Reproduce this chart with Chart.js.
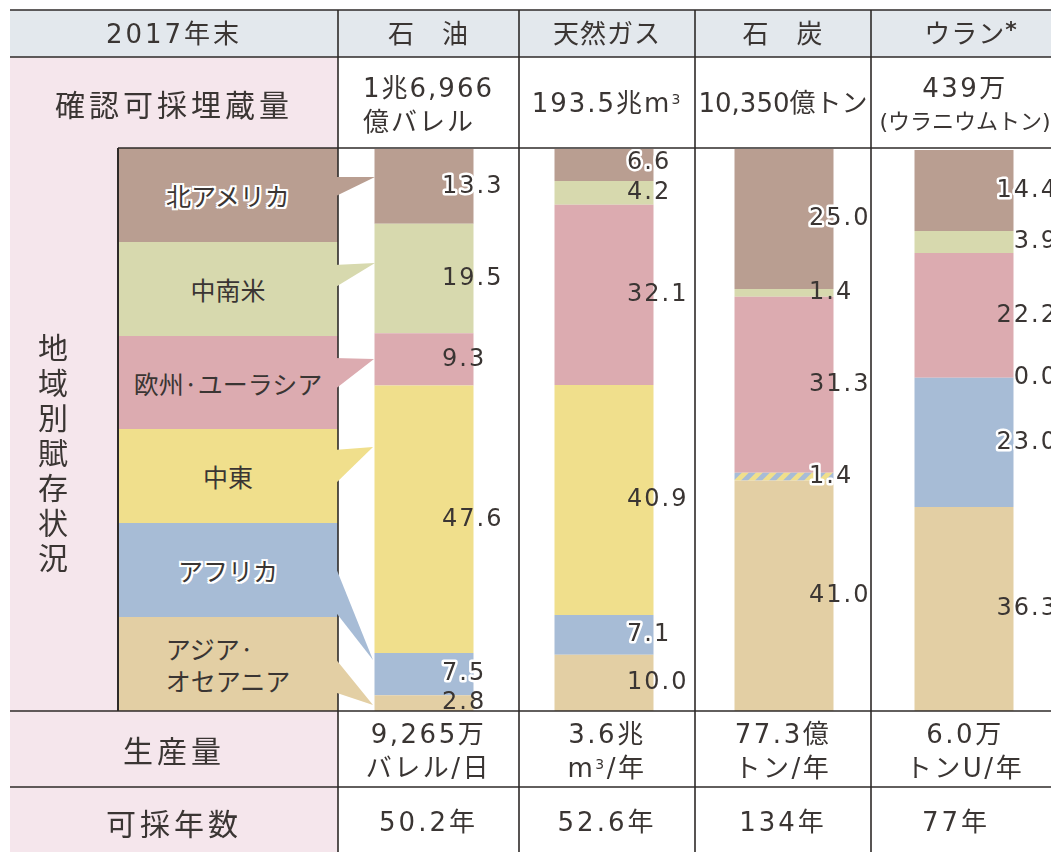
<!DOCTYPE html>
<html lang="ja">
<head>
<meta charset="utf-8">
<script src="https://cdn.jsdelivr.net/npm/chart.js@4.4.1/dist/chart.umd.min.js"></script>
<style>
  html, body { margin:0; padding:0; background:#fff; overflow:hidden; }
  body { width:1051px; height:852px; position:relative; color:#3a3533;
         font-family:"DejaVu Sans","Noto Sans CJK JP",sans-serif; font-weight:400; }
  .bg { position:absolute; }
  .cell { position:absolute; display:flex; flex-direction:column; align-items:center; justify-content:center;
          text-align:center; font-size:26px; line-height:34px; letter-spacing:2.5px; white-space:nowrap; }
  .hd { font-size:26px; letter-spacing:1px; }
  .big { font-size:30px; letter-spacing:4px; font-family:"Noto Sans CJK JP",sans-serif; }
  .legend { position:absolute; left:118px; width:220px; display:flex; flex-direction:column; align-items:center;
            justify-content:center; font-family:"Noto Sans CJK JP",sans-serif; font-size:25px; line-height:32px; }
  .halo { text-shadow: 2px 0 #fff, -2px 0 #fff, 0 2px #fff, 0 -2px #fff, 2px 2px #fff, -2px -2px #fff, 2px -2px #fff, -2px 2px #fff; }
  sup { font-size:14px; line-height:0; vertical-align:8px; }
  sup.ast { font-size:22px; font-weight:700; vertical-align:6px; }
  #chartBox { position:absolute; left:334px; top:149px; }
  svg { position:absolute; left:0; top:0; }
</style>
</head>
<body>
<!-- backgrounds -->
<div class="bg" style="left:10px;top:10px;width:1041px;height:47px;background:#e3e8ed"></div>
<div class="bg" style="left:10px;top:57px;width:328px;height:795px;background:#f5e6ec"></div>

<!-- legend bands -->
<div class="legend halo" style="top:148px;height:94px;background:#b99e91">北アメリカ</div>
<div class="legend" style="top:242px;height:94px;background:#d7d9ae">中南米</div>
<div class="legend" style="top:336px;height:93px;background:#dcabb0">欧州·ユーラシア</div>
<div class="legend" style="top:429px;height:94px;background:#f0df8c">中東</div>
<div class="legend halo" style="top:523px;height:94px;background:#a7bcd6">アフリカ</div>
<div class="legend" style="top:617px;height:94px;background:#e3cfa4">アジア·<br>オセアニア</div>

<div id="chartBox"><canvas id="chart" width="720" height="562"></canvas></div>

<svg width="1051" height="852">
  <g stroke="#2e2a28" stroke-width="1.6" fill="none">
    <line x1="10" y1="10" x2="1051" y2="10"/>
    <line x1="10" y1="57" x2="1051" y2="57"/>
    <line x1="118" y1="148" x2="1051" y2="148"/>
    <line x1="10" y1="711" x2="1051" y2="711"/>
    <line x1="10" y1="787" x2="1051" y2="787"/>
    <line x1="338" y1="10" x2="338" y2="852"/>
    <line x1="519" y1="10" x2="519" y2="852"/>
    <line x1="695" y1="10" x2="695" y2="852"/>
    <line x1="871" y1="10" x2="871" y2="852"/>
    <line x1="118" y1="148" x2="118" y2="711" stroke-width="2"/>
  </g>
  <g stroke="none">
    <polygon points="334,177 375,177 334,197" fill="#b99e91"/>
    <polygon points="334,265 375,263 334,288" fill="#d7d9ae"/>
    <polygon points="334,358 374,359 334,390" fill="#dcabb0"/>
    <polygon points="334,450 373,447 334,485" fill="#f0df8c"/>
    <polygon points="334,563 373,660 334,610" fill="#a7bcd6"/>
    <polygon points="334,657 373,705 334,692" fill="#e3cfa4"/>
  </g>
</svg>

<!-- header row -->
<div class="cell hd" style="left:10px;top:10px;width:328px;height:47px;letter-spacing:3px">2017年末</div>
<div class="cell hd" style="left:338px;top:10px;width:181px;height:47px">石　油</div>
<div class="cell hd" style="left:519px;top:10px;width:176px;height:47px">天然ガス</div>
<div class="cell hd" style="left:695px;top:10px;width:176px;height:47px">石　炭</div>
<div class="cell hd" style="left:871px;top:10px;width:200px;height:47px"><span>ウラン<sup class="ast">*</sup></span></div>

<!-- reserves row -->
<div class="cell big" style="left:10px;top:57px;width:328px;height:91px">確認可採埋蔵量</div>
<div class="cell" style="left:338px;top:59px;width:181px;height:91px;letter-spacing:2px"><div style="text-align:left">1兆6,966<br>億バレル</div></div>
<div class="cell" style="left:519px;top:57px;width:176px;height:91px;letter-spacing:2px"><span>193.5兆m<sup>3</sup></span></div>
<div class="cell" style="left:695px;top:57px;width:176px;height:91px;letter-spacing:0">10,350億トン</div>
<div class="cell" style="left:871px;top:59px;width:188px;height:91px"><div>439万</div><div style="font-size:22px;letter-spacing:0">(ウラニウムトン)</div></div>

<div class="bg" style="left:45px;top:333px;width:30px;font-family:'Noto Sans CJK JP',sans-serif;font-size:30px;letter-spacing:5px;writing-mode:vertical-rl">地域別賦存状況</div>

<!-- production row -->
<div class="cell big" style="left:10px;top:711px;width:328px;height:76px">生産量</div>
<div class="cell" style="left:338px;top:713px;width:181px;height:76px">9,265万<br>バレル/日</div>
<div class="cell" style="left:519px;top:713px;width:176px;height:76px"><div>3.6兆</div><div>m<sup>3</sup>/年</div></div>
<div class="cell" style="left:695px;top:713px;width:176px;height:76px">77.3億<br>トン/年</div>
<div class="cell" style="left:871px;top:713px;width:188px;height:76px">6.0万<br>トンU/年</div>

<!-- years row -->
<div class="cell" style="left:10px;top:787px;width:328px;height:70px"><span class="big">可採年数</span></div>
<div class="cell" style="left:338px;top:787px;width:181px;height:70px;letter-spacing:3px">50.2年</div>
<div class="cell" style="left:519px;top:787px;width:176px;height:70px;letter-spacing:3px">52.6年</div>
<div class="cell" style="left:695px;top:787px;width:176px;height:70px;letter-spacing:3px">134年</div>
<div class="cell" style="left:871px;top:787px;width:170px;height:70px;letter-spacing:3px">77年</div>

<script>
// 地域別賦存状況 (%) : 石油, 天然ガス, 石炭, ウラン
const categories = ['石油', '天然ガス', '石炭', 'ウラン'];
const asiaOceania = [2.8, 10.0, 41.0, 36.3];
const africa = [7.5, 7.1, null, 23.0];
const middleEastAfrica = [null, null, 1.4, null]; // 石炭は中東・アフリカ合計
const middleEast = [47.6, 40.9, null, 0.0];
const europeEurasia = [9.3, 32.1, 31.3, 22.2];
const southAmerica = [19.5, 4.2, 1.4, 3.9];
const northAmerica = [13.3, 6.6, 25.0, 14.4];

// stripes for the combined Middle East + Africa band
function stripes() {
    const c = document.createElement('canvas');
    c.width = 14; c.height = 14;
    const g = c.getContext('2d');
    g.fillStyle = '#f0df8c';
    g.fillRect(0, 0, 14, 14);
    g.strokeStyle = '#a7bcd6';
    g.lineWidth = 5;
    g.beginPath();
    g.moveTo(-2, 16); g.lineTo(16, -2);
    g.moveTo(-9, 9); g.lineTo(9, -9);
    g.moveTo(5, 23); g.lineTo(23, 5);
    g.stroke();
    return g.createPattern(c, 'repeat');
}

const labelAlign = ['left', 'left', 'left', 'right'];
const labelDx = [18, 23, 25, 94];

const valueLabels = {
    id: 'valueLabels',
    afterDatasetsDraw(chart) {
        const ctx = chart.ctx;
        ctx.save();
        ctx.font = '24px "DejaVu Sans", sans-serif';
        ctx.letterSpacing = '2px';
        ctx.textBaseline = 'middle';
        ctx.lineJoin = 'round';
        chart.data.datasets.forEach((ds, di) => {
            chart.getDatasetMeta(di).data.forEach((bar, i) => {
                const v = ds.data[i];
                if (v === null || v === undefined) return;
                const y = (bar.y + bar.base) / 2;
                const x = bar.x + labelDx[i];
                const txt = v.toFixed(1);
                ctx.textAlign = labelAlign[i];
                if (ds.halo) {
                    ctx.strokeStyle = '#fff';
                    ctx.lineWidth = 5;
                    ctx.strokeText(txt, x, y);
                }
                ctx.fillStyle = '#3a3533';
                ctx.fillText(txt, x, y);
            });
        });
        ctx.restore();
    }
};

new Chart(document.getElementById('chart'), {
    type: 'bar',
    data: {
        labels: categories,
        datasets: [
            { label: 'アジア・オセアニア', data: asiaOceania, backgroundColor: '#e3cfa4' },
            { label: 'アフリカ', data: africa, backgroundColor: '#a7bcd6', halo: true },
            { label: '中東・アフリカ', data: middleEastAfrica, backgroundColor: stripes(), halo: true },
            { label: '中東', data: middleEast, backgroundColor: '#f0df8c' },
            { label: '欧州・ユーラシア', data: europeEurasia, backgroundColor: '#dcabb0' },
            { label: '中南米', data: southAmerica, backgroundColor: '#d7d9ae' },
            { label: '北アメリカ', data: northAmerica, backgroundColor: '#b99e91', halo: true }
        ]
    },
    options: {
        responsive: false,
        animation: false,
        devicePixelRatio: 1,
        layout: { padding: 0 },
        datasets: { bar: { barPercentage: 0.55, categoryPercentage: 1, borderWidth: 0 } },
        plugins: { legend: { display: false }, tooltip: { enabled: false } },
        scales: {
            x: { stacked: true, display: false },
            y: { stacked: true, display: false, min: 0, max: 100 }
        }
    },
    plugins: [valueLabels]
});
</script>
</body>
</html>
